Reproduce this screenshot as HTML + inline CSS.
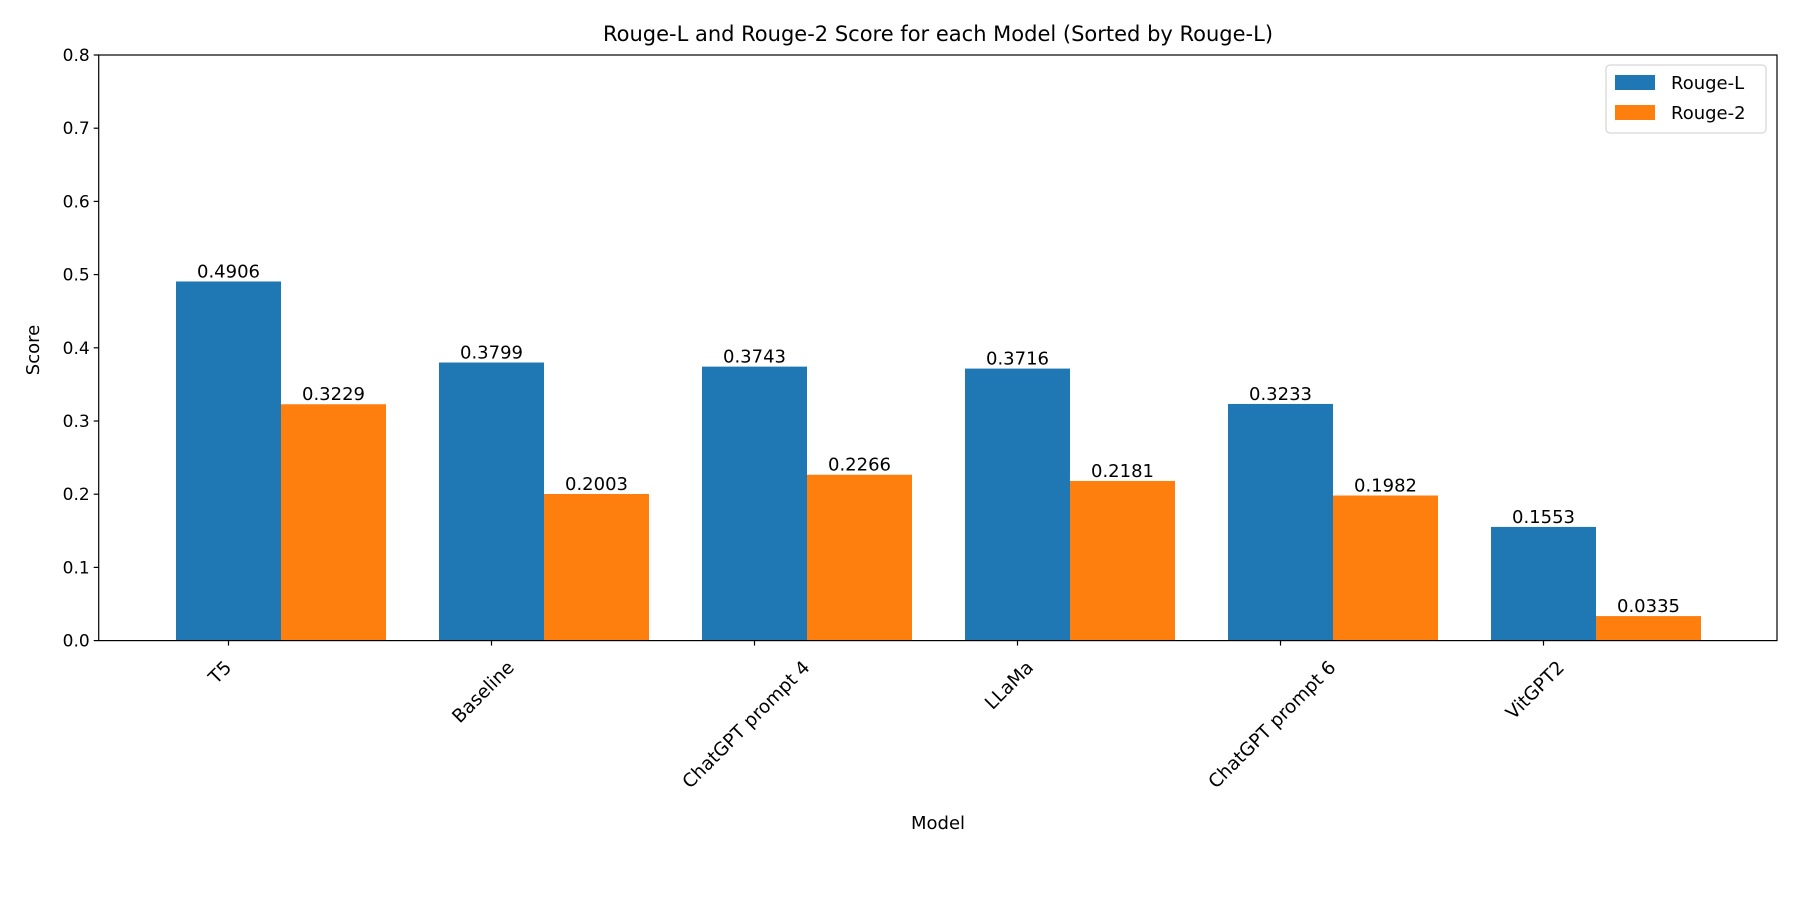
<!DOCTYPE html>
<html><head><meta charset="utf-8"><style>
html,body{margin:0;padding:0;background:#fff;}
svg text{font-family:"DejaVu Sans","Liberation Sans",sans-serif;fill:#000;}
</style></head><body>
<svg id="chart" width="1800" height="900" viewBox="0 0 1800 900"></svg>
<script>
const categories = ["T5","Baseline","ChatGPT prompt 4","LLaMa","ChatGPT prompt 6","VitGPT2"];
const rougeL = [0.4906,0.3799,0.3743,0.3716,0.3233,0.1553];
const rouge2 = [0.3229,0.2003,0.2266,0.2181,0.1982,0.0335];
const yTicks = [0.0,0.1,0.2,0.3,0.4,0.5,0.6,0.7,0.8];

const svg = document.getElementById('chart');
const NS = "http://www.w3.org/2000/svg";
const L = 98.7, R = 1777, T = 55, B = 640.6;
const step = 263, x0 = 228.5, bw = 105;
function xc(i){ return x0 + i*step; }
function y(v){ return B - (v/0.8)*(B-T); }
function el(tag, attrs, text){
  const e = document.createElementNS(NS, tag);
  for (const k in attrs) e.setAttribute(k, attrs[k]);
  if (text !== undefined) e.textContent = text;
  svg.appendChild(e);
  return e;
}
const series = [{vals: rougeL, color: "#1f77b4", off: 0, name: "rouge-l"}, {vals: rouge2, color: "#ff7f0e", off: bw, name: "rouge-2"}];
series.forEach(s => {
  s.vals.forEach((v, i) => {
    const cx = xc(i) + s.off;
    const r = el('rect', {x: cx - bw/2, y: y(v), width: bw, height: B - y(v), fill: s.color});
    
    
    const t = el('text', {x: cx, y: y(v) - 4, 'font-size': 18, 'text-anchor': 'middle'}, v.toFixed(4));
    
    
  });
});
const f = el('rect', {x: L, y: T, width: R - L, height: B - T, fill: 'none', stroke: '#000', 'stroke-width': 1.2});


yTicks.forEach(v => {
  el('line', {x1: L - 5, x2: L, y1: y(v), y2: y(v), stroke: '#000', 'stroke-width': 1.2});
  const t = el('text', {x: L - 9, y: y(v) + 6, 'font-size': 17, 'text-anchor': 'end'}, v.toFixed(1));
  
  
});
categories.forEach((c, i) => {
  el('line', {x1: xc(i), x2: xc(i), y1: B, y2: B + 5, stroke: '#000', 'stroke-width': 1.2});
  const t = el('text', {x: 0, y: 0, 'font-size': 18.5, 'text-anchor': 'middle'}, c);
  
  
  const w = t.getComputedTextLength();
  const half = (w * 0.7071 + 14) / 2;
  const cx = xc(i) - 9, cy = B + 16 + half;
  t.setAttribute('x', cx);
  t.setAttribute('y', cy + 7);
  t.setAttribute('transform', `rotate(-45 ${cx} ${cy})`);
});
</script>
<svg width="1800" height="900" style="position:absolute;left:0;top:0">
<text x="938" y="41" font-size="21" text-anchor="middle">Rouge-L and Rouge-2 Score for each Model (Sorted by Rouge-L)</text>
<text x="938" y="829" font-size="18" text-anchor="middle">Model</text>
<text x="39" y="350" font-size="18" text-anchor="middle" transform="rotate(-90 39 350)">Score</text>
<g>
<rect x="1606" y="65" width="160" height="68" rx="4" fill="#fff" stroke="#ccc"/>
<rect x="1615" y="75" width="40" height="15" fill="#1f77b4"/>
<text x="1671" y="89" font-size="18">Rouge-L</text>
<rect x="1615" y="105" width="40" height="15" fill="#ff7f0e"/>
<text x="1671" y="119" font-size="18">Rouge-2</text>
</g>
</svg>
</body></html>
